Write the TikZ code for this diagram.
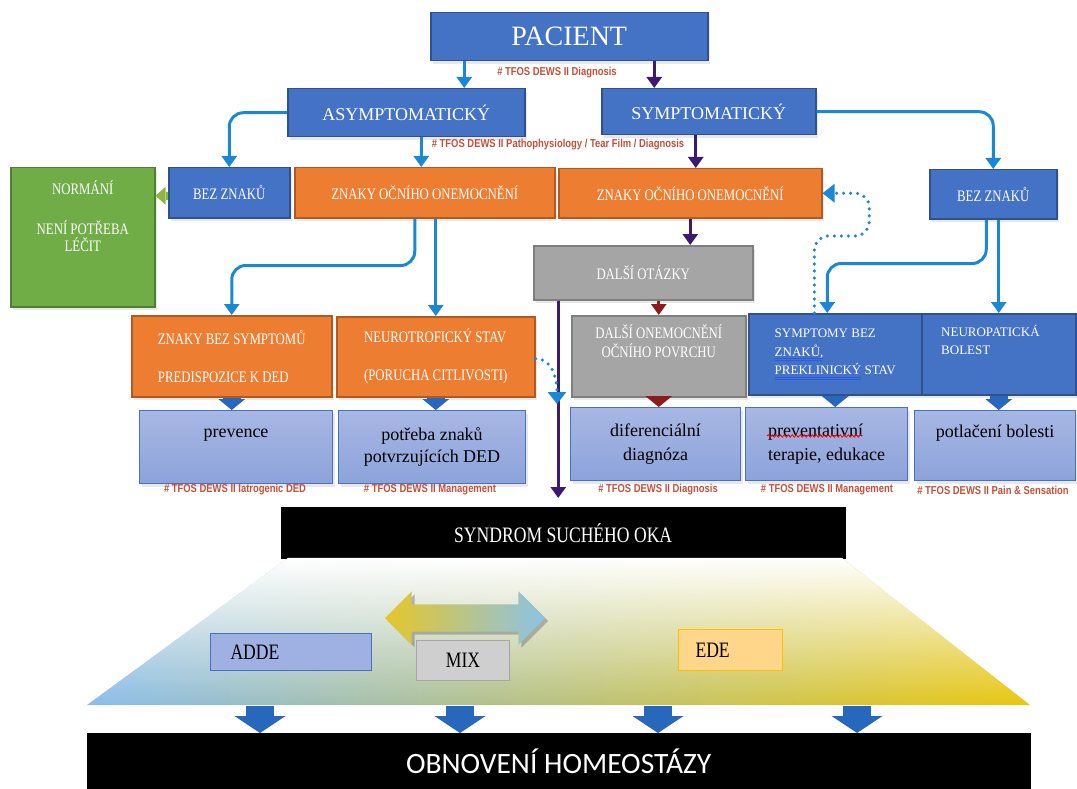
\documentclass[tikz,border=0pt]{standalone}
\usepackage{fontspec}
\setmainfont{Liberation Serif}
\newfontfamily\boxfont[FakeStretch=0.8]{Liberation Serif}
\newfontfamily\tagfont[FakeStretch=0.82]{Liberation Sans}
\newfontfamily\homfont{Carlito}
\usetikzlibrary{arrows.meta,shapes.arrows,shadows,fadings,decorations.pathmorphing}

\definecolor{boxblue}{HTML}{4472C4}
\definecolor{boxblueline}{HTML}{2F528F}
\definecolor{boxorange}{HTML}{ED7D31}
\definecolor{boxorangeline}{HTML}{AE5A21}
\definecolor{boxgray}{HTML}{A5A5A5}
\definecolor{boxgrayline}{HTML}{7F7F7F}
\definecolor{boxgreen}{HTML}{70AD47}
\definecolor{boxgreenline}{HTML}{507E32}
\definecolor{lightboxtop}{HTML}{A8B7E4}
\definecolor{lightboxbot}{HTML}{8CA3DA}
\definecolor{arrblue}{HTML}{1B88D6}
\definecolor{arrpurple}{HTML}{3C1A6E}
\definecolor{arrred}{HTML}{8B1C1C}
\definecolor{arrgreen}{HTML}{8DB640}
\definecolor{blockblue}{HTML}{2767BC}
\definecolor{tagred}{HTML}{C4503A}
\definecolor{trapblue}{HTML}{8ABDEB}
\definecolor{trapmid}{HTML}{C2CB8A}
\definecolor{trapyellow}{HTML}{EAC70E}
\definecolor{addefill}{HTML}{9FB0E2}
\definecolor{edefill}{HTML}{FFD68A}
\definecolor{edeline}{HTML}{FFC000}
\definecolor{mixfill}{HTML}{CFCFCF}
\definecolor{mixline}{HTML}{A6A6A6}
\definecolor{dayellow}{HTML}{E6C62A}
\definecolor{dablue}{HTML}{8CC3E6}
\definecolor{spellblue}{HTML}{2E5BE6}

\tikzfading[name=whitetop, top color=transparent!0, middle color=transparent!86, bottom color=transparent!100]

\newsavebox\ulbox
\newcommand{\blueul}[1]{\sbox\ulbox{#1}\rlap{\color{spellblue}\rule[-2.5pt]{\wd\ulbox}{0.6pt}}\rlap{\color{spellblue}\rule[-4.5pt]{\wd\ulbox}{0.6pt}}\usebox\ulbox}

\tikzset{
  sz/.style 2 args={minimum width=#1pt, minimum height=#2pt},
  box/.style={draw, line width=1.5pt, inner sep=0pt, anchor=north west, text=white, align=center,
    drop shadow={opacity=0.18, shadow xshift=2pt, shadow yshift=-3pt}},
  bluebox/.style={box, fill=boxblue, draw=boxblueline},
  orangebox/.style={box, fill=boxorange, draw=boxorangeline},
  graybox/.style={box, fill=boxgray, draw=boxgrayline},
  greenbox/.style={box, fill=boxgreen, draw=boxgreenline},
  lightbox/.style={box, top color=lightboxtop, bottom color=lightboxbot, draw=boxblue, line width=1pt, text=black},
  blackbox/.style={draw=black, fill=black, inner sep=0pt, anchor=north west, text=white},
  btxt/.style={font=\boxfont\fontsize{16}{19}\selectfont},
  ttxt/.style={font=\fontsize{13}{18.5}\selectfont},
  ltxt/.style={font=\fontsize{18}{22}\selectfont, text=black, align=center, inner sep=0pt},
  wlbl/.style={font=\boxfont\fontsize{16}{17}\selectfont, text=white, align=center, inner sep=0pt},
  tlbl/.style={font=\fontsize{13}{18}\selectfont, text=white, align=left, inner sep=0pt},
  tag/.style={font=\tagfont\bfseries\fontsize{11.5}{12}\selectfont, text=tagred, inner sep=0pt},
  bluearr/.style={draw=arrblue, line width=3pt, -{Triangle[width=15pt,length=11pt]}, arrblue},
  purplearr/.style={draw=arrpurple, line width=3pt, -{Triangle[width=15pt,length=11pt]}, arrpurple},
  redarr/.style={draw=arrred, line width=3pt, -{Triangle[width=15pt,length=11pt]}, arrred},
  dotarr/.style={draw=arrblue, line width=3.5pt, dash pattern=on 0pt off 7pt, line cap=round,
    -{Triangle[width=18pt,length=12pt]}, arrblue},
  blockarr/.style={draw=blockblue, line width=18pt, -{Triangle[width=27pt,length=11pt,line width=0pt]}, blockblue},
  bigarr/.style={draw=blockblue, line width=28pt, -{Triangle[width=51pt,length=17pt,line width=0pt]}, blockblue},
  smallbox/.style={draw, line width=1pt, inner sep=0pt, anchor=north west, text=black,
    font=\boxfont\fontsize{22}{26}\selectfont},
  spellwave/.style={draw=red, line width=0.8pt, decorate, decoration={snake, amplitude=1.2pt, segment length=4pt}}
}

\begin{document}
\begin{tikzpicture}[x=1pt, y=-1pt]
\useasboundingbox (0,0) rectangle (1077,789);

% horní část
\node[bluebox, sz={277}{48}, font=\fontsize{28}{32}\selectfont] (pac) at (430,12) {PACIENT};
\node[bluebox, sz={237}{48}, font=\fontsize{18}{22}\selectfont] (asym) at (287,88) {ASYMPTOMATICKÝ};
\node[bluebox, sz={214}{46}, font=\fontsize{18}{22}\selectfont] (symp) at (601,88) {SYMPTOMATICKÝ};
\node[tag] (tagdg) at (557,73) {\# TFOS DEWS II Diagnosis};
\node[tag] (tagpf) at (558,145) {\# TFOS DEWS II Pathophysiology / Tear Film / Diagnosis};

% druhá řada
\node[greenbox, sz={144}{139}, label={[wlbl, anchor=north, yshift=-14pt]north:{NORMÁNÍ\\[23pt]NENÍ POTŘEBA\\LÉČIT}}] (norm) at (10,167) {};
\node[bluebox, sz={121}{50}, btxt] (bezL) at (168,167) {BEZ ZNAKŮ};
\node[orangebox, sz={260}{50}, btxt] (znL) at (294,167) {ZNAKY OČNÍHO ONEMOCNĚNÍ};
\node[orangebox, sz={263}{49}, btxt] (znR) at (558,168) {ZNAKY OČNÍHO ONEMOCNĚNÍ};
\node[graybox, sz={219}{54}, btxt] (dalsi) at (533,245) {DALŠÍ OTÁZKY};
\node[bluebox, sz={127}{49}, btxt] (bezR) at (929,169) {BEZ ZNAKŮ};

% třetí řada
\node[orangebox, sz={200}{81}, btxt, align=left] (zbs) at (131,315) {ZNAKY BEZ SYMPTOMŮ\\[19pt]PREDISPOZICE K DED};
\node[orangebox, sz={198}{80}, btxt, align=left] (neu) at (336,316) {NEUROTROFICKÝ STAV\\[19pt](PORUCHA CITLIVOSTI)};
\node[graybox, sz={174}{81}, label={[wlbl, anchor=north, yshift=-10pt]north:{DALŠÍ ONEMOCNĚNÍ\\[2pt]OČNÍHO POVRCHU}}] (don) at (571,315) {};
\node[bluebox, sz={173}{81}, ttxt, align=left] (sbz) at (748,313) {SYMPTOMY BEZ\\\blueul{ZNAKŮ,}\\\blueul{PREKLINICKÝ} STAV};
\node[bluebox, sz={154}{81}, label={[tlbl, anchor=north west, xshift=20pt, yshift=-12pt]north west:{NEUROPATICKÁ\\BOLEST}}] (neb) at (921,313) {};

% čtvrtá řada
\node[lightbox, sz={193}{73}, label={[ltxt, anchor=north, yshift=-19pt]north:prevence}] (prev) at (139,410) {};
\node[lightbox, sz={187}{73}, ltxt] (potr) at (338,410) {potřeba znaků\\potvrzujících DED};
\node[lightbox, sz={170}{73}, ltxt] (dif) at (570,407) {diferenciální\\[2pt]diagnóza};
\node[lightbox, sz={162}{73}, ltxt, align=left] (prevt) at (745,407) {preventativní\\[2pt]terapie, edukace};
\node[lightbox, sz={161}{70}, label={[ltxt, anchor=north, yshift=-15pt]north:potlačení bolesti}] (potl) at (914,410) {};
\draw[spellwave] ([xshift=22pt, yshift=-29pt]prevt.north west) -- ++(95,0);

\node[tag] (tagia) at (235,490) {\# TFOS DEWS II Iatrogenic DED};
\node[tag] (tagm1) at (430,490) {\# TFOS DEWS II Management};
\node[tag] (tagd2) at (658,490) {\# TFOS DEWS II Diagnosis};
\node[tag] (tagm2) at (827,490) {\# TFOS DEWS II Management};
\node[tag] (tagps) at (993,490) {\# TFOS DEWS II Pain \& Sensation};

% syndrom suchého oka
\node[blackbox, sz={564}{51}, font=\boxfont\fontsize{22}{26}\selectfont] (syn) at (281,507) {SYNDROM SUCHÉHO OKA};

% spojnice
\draw[bluearr] ([xshift=-105pt]pac.south) -- ([xshift=-105pt]pac.south |- asym.north);
\draw[purplearr] ([xshift=85pt]pac.south) -- ([xshift=85pt]pac.south |- symp.north);
\draw[bluearr, rounded corners=14pt] (asym.west) -| (bezL.north);
\draw[bluearr] ([xshift=15pt]asym.south) -- ([xshift=15pt]asym.south |- znL.north);
\draw[purplearr] ([xshift=-13pt]symp.south) -- ([xshift=-13pt]symp.south |- znR.north);
\draw[bluearr, rounded corners=14pt] (symp.east) -| (bezR.north);
\draw[arrgreen, line width=8pt, -{Triangle[width=18pt,length=10pt,line width=0pt]}] ([yshift=-3pt]bezL.west) -- ([yshift=-3pt]bezL.west -| norm.east);
\draw[bluearr, rounded corners=14pt] ([xshift=-10pt]znL.south) -- ++(0,47) -| (zbs.north);
\draw[bluearr] (neu.north |- znL.south) -- (neu.north);
\draw[purplearr] (znR.south) -- (znR.south |- dalsi.north);
\draw[redarr] (dalsi.south -| don.north) -- (don.north);
\draw[purplearr, shorten >=9pt] ([xshift=-85pt]dalsi.south) -- ([xshift=-85pt]dalsi.south |- syn.north);
\draw[bluearr, rounded corners=14pt] ([xshift=-7pt]bezR.south) -- ++(0,44) -| ([xshift=-8pt]sbz.north);
\draw[bluearr] (neb.north |- bezR.south) -- (neb.north);
\draw[dotarr, rounded corners=14pt] ([xshift=-21pt]sbz.north) |- ++(55,-77) |- (znR.east);
\coordinate (dotend) at (557,404);
\draw[dotarr] ([yshift=-2pt]neu.east) to[out=0, in=90] (dotend);

\draw[blockarr] (zbs.south) -- (zbs.south |- prev.north);
\draw[blockarr] (neu.south) -- (neu.south |- potr.north);
\draw[blockarr, draw=arrred, arrred] (don.south) -- (don.south |- dif.north);
\draw[blockarr] (sbz.south) -- (sbz.south |- prevt.north);
\draw[blockarr] (neb.south) -- (neb.south |- potl.north);

% lichoběžník
\path[left color=trapblue, middle color=trapmid, right color=trapyellow]
  (288,558) -- (842,558) -- (1030,705) -- (87,705) -- cycle;
\fill[white, path fading=whitetop] (288,558) -- (842,558) -- (1030,705) -- (87,705) -- cycle;

\node[double arrow, minimum height=160pt, inner xsep=0pt, inner ysep=13.5pt, double arrow head extend=13pt,
  left color=dayellow, right color=dablue, drop shadow={opacity=0.55, shadow xshift=3pt, shadow yshift=-3pt}]
  (mixarr) at (465,618) {};
\node[smallbox, sz={161}{37}, fill=addefill, draw=boxblue, text width=121pt, align=left] (adde) at (210,633) {ADDE};
\node[smallbox, sz={93}{40}, fill=mixfill, draw=mixline] (mix) at (416,640) {MIX};
\node[smallbox, sz={104}{41}, fill=edefill, draw=edeline, text width=70pt, align=left] (ede) at (678,629) {EDE};

% obnovení homeostázy
\node[blackbox, sz={943}{57}, font=\homfont\fontsize{29.5}{34}\selectfont] (obn) at (87,733) {OBNOVENÍ HOMEOSTÁZY};
\foreach \x [count=\i] in {260,460,658,857} {
  \coordinate (tb\i) at (\x,706);
  \draw[bigarr] (tb\i) -- (tb\i |- obn.north);
}
\end{tikzpicture}
\end{document}
